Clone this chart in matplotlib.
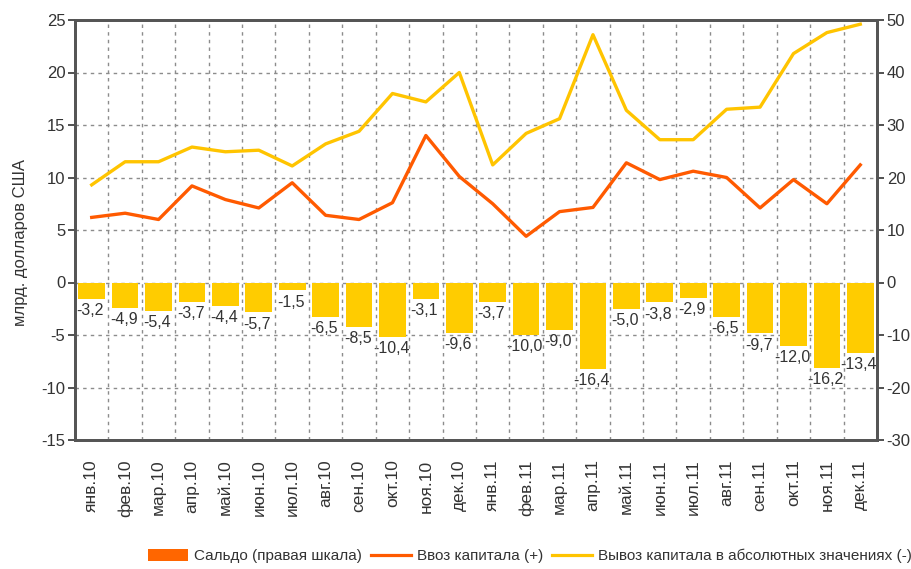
import matplotlib
matplotlib.use("Agg")
import matplotlib.pyplot as plt
from matplotlib.patches import Patch
from matplotlib.lines import Line2D
import numpy as np

months = ["янв.10", "фев.10", "мар.10", "апр.10", "май.10", "июн.10",
          "июл.10", "авг.10", "сен.10", "окт.10", "ноя.10", "дек.10",
          "янв.11", "фев.11", "мар.11", "апр.11", "май.11", "июн.11",
          "июл.11", "авг.11", "сен.11", "окт.11", "ноя.11", "дек.11"]

saldo = [-3.2, -4.9, -5.4, -3.7, -4.4, -5.7, -1.5, -6.5, -8.5, -10.4, -3.1, -9.6,
         -3.7, -10.0, -9.0, -16.4, -5.0, -3.8, -2.9, -6.5, -9.7, -12.0, -16.2, -13.4]

inflow = [6.2, 6.6, 6.0, 9.2, 7.9, 7.1, 9.5, 6.4, 6.0, 7.6, 14.0, 10.1,
          7.5, 4.4, 6.75, 7.15, 11.4, 9.8, 10.6, 10.0, 7.1, 9.8, 7.5, 11.2]

outflow = [9.3, 11.5, 11.5, 12.9, 12.45, 12.6, 11.1, 13.2, 14.4, 18.0, 17.2, 20.0,
           11.2, 14.2, 15.6, 23.6, 16.4, 13.6, 13.6, 16.5, 16.7, 21.8, 23.8, 24.6]

left_ticks = [25, 20, 15, 10, 5, 0, -5, -10, -15]
right_ticks = [50, 40, 30, 20, 10, 0, -10, -20, -30]

plt.rcParams['font.family'] = ['Liberation Sans', 'DejaVu Sans']

C_BAR = '#FFCC00'
C_IN = '#FF5A00'
C_OUT = '#FFC400'
C_SALDO_LEG = '#FF6600'
C_TEXT = '#333333'
C_SPINE = '#555555'
C_GRID = '#8c8c8c'

fig = plt.figure(figsize=(9.11, 5.69), dpi=100)
ax = fig.add_axes([75/911, 1-440/569, (877-75)/911, 420/569])
ax2 = ax.twinx()
ax.set_zorder(2)
ax2.set_zorder(1)
ax.patch.set_visible(False)
ax2.patch.set_facecolor('white')

x = np.arange(len(months))

# bars on right scale
ax2.bar(x, saldo, width=0.8, color=C_BAR, zorder=3)
ax2.set_ylim(-30, 50)
ax2.set_yticks(right_ticks)
ax2.set_yticklabels([str(t) if t >= 0 else '-' + str(-t) for t in right_ticks])
ax2.grid(True, which='major', axis='y', color=C_GRID, linestyle=(0, (2.5, 3)), linewidth=1, zorder=0)
for xi, v in zip(x, saldo):
    ax2.annotate(f"{v:.1f}".replace('.', ','), (xi, v),
                 xytext=(-1, -3), textcoords='offset points',
                 ha='center', va='top', fontsize=11.5, color=C_TEXT, zorder=4)

# lines on left scale
ax.set_xlim(-0.5, len(months) - 0.5)
ax.set_xticks(x)
ax.set_xticks(np.arange(0.5, len(months) - 0.5, 1), minor=True)
ax.grid(True, which='minor', axis='x', color=C_GRID, linestyle=(0, (2.5, 3)), linewidth=1)
ax.set_axisbelow(True)
ax.plot(x, outflow, color=C_OUT, linewidth=2.4, solid_joinstyle='round', zorder=3)
ax.plot(x, inflow, color=C_IN, linewidth=2.4, solid_joinstyle='round', zorder=3)
ax.set_ylim(-15, 25)
ax.set_yticks(left_ticks)
ax.set_yticklabels([str(t) if t >= 0 else '-' + str(-t) for t in left_ticks])
ax.set_xticklabels(months, rotation=90, fontsize=12.5, color=C_TEXT)
ax.tick_params(axis='x', which='both', length=0, pad=14)
ax.tick_params(axis='y', labelsize=12, colors=C_TEXT, length=5, width=1.2, direction='out', pad=2)
ax2.tick_params(axis='y', labelsize=12, colors=C_TEXT, length=5, width=1.2, direction='out', pad=2)
for a in (ax, ax2):
    for s in a.spines.values():
        s.set_color(C_SPINE)
        s.set_linewidth(2)

ax.set_ylabel("млрд. долларов США", fontsize=12, color=C_TEXT)
ax.yaxis.set_label_coords(-0.058, 0.47)

handles = [Patch(facecolor=C_SALDO_LEG, edgecolor='none'),
           Line2D([], [], color=C_IN, linewidth=2.3),
           Line2D([], [], color=C_OUT, linewidth=2.3)]
labels = ["Сальдо (правая шкала)", "Ввоз капитала (+)",
          "Вывоз капитала в абсолютных значениях (-)"]
fig.legend(handles, labels, loc='center', bbox_to_anchor=(530/911, 1-556/569),
           ncol=3, frameon=False, fontsize=11, handlelength=2.6, handleheight=0.9,
           handletextpad=0.4, columnspacing=0.6, labelcolor=C_TEXT)

fig.savefig("out.png", dpi=100)
